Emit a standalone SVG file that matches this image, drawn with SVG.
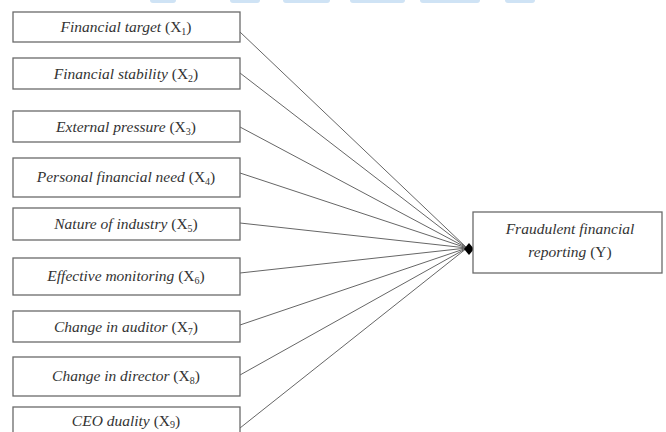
<svg xmlns="http://www.w3.org/2000/svg" width="666" height="432" viewBox="0 0 666 432">
<style>
.box{fill:#fff;stroke:#6a6a6a;stroke-width:1.3}
.t{font-family:"Liberation Serif","DejaVu Serif",serif;font-size:15.5px;fill:#333;text-anchor:middle}
.i{font-style:italic;font-family:"Liberation Serif","DejaVu Serif",serif}
.s{font-size:10px}
.c line{stroke:#666;stroke-width:1}
.wm{fill:#cfe3f5}
</style>
<rect width="666" height="432" fill="#fff"/>
<g id="watermark">
<rect class="wm" x="150" y="-4" width="26" height="7" rx="3"/>
<rect class="wm" x="230" y="-4" width="30" height="7" rx="3"/>
<rect class="wm" x="283" y="-4" width="47" height="7" rx="3"/>
<rect class="wm" x="350" y="-4" width="55" height="7" rx="3"/>
<rect class="wm" x="420" y="-4" width="60" height="7" rx="3"/>
<rect class="wm" x="505" y="-4" width="30" height="7" rx="3"/>
</g>
<g class="c" id="connectors">
<line x1="240" y1="32" x2="467" y2="248"/>
<line x1="240" y1="73" x2="467" y2="248"/>
<line x1="240" y1="127" x2="467" y2="248"/>
<line x1="240" y1="173" x2="467" y2="248"/>
<line x1="240" y1="223" x2="467" y2="248"/>
<line x1="240" y1="273" x2="467" y2="248"/>
<line x1="240" y1="325" x2="467" y2="248"/>
<line x1="240" y1="375" x2="467" y2="248"/>
<line x1="240" y1="428" x2="467" y2="248"/>
<path d="M469 243 L474 249 L469 255 L464 249 Z" fill="#000"/>
</g>
<g id="x1"><rect class="box" x="13" y="12" width="227" height="30"/><text class="t" x="126" y="32"><tspan class="i">Financial target</tspan> (X<tspan class="s" dy="3">1</tspan><tspan dy="-3">)</tspan></text></g>
<g id="x2"><rect class="box" x="13" y="58" width="227" height="31"/><text class="t" x="126" y="79"><tspan class="i">Financial stability</tspan> (X<tspan class="s" dy="3">2</tspan><tspan dy="-3">)</tspan></text></g>
<g id="x3"><rect class="box" x="13" y="111" width="227" height="31"/><text class="t" x="126" y="132"><tspan class="i">External pressure</tspan> (X<tspan class="s" dy="3">3</tspan><tspan dy="-3">)</tspan></text></g>
<g id="x4"><rect class="box" x="13" y="158" width="227" height="39"/><text class="t" x="126" y="182"><tspan class="i">Personal financial need</tspan> (X<tspan class="s" dy="3">4</tspan><tspan dy="-3">)</tspan></text></g>
<g id="x5"><rect class="box" x="13" y="208" width="227" height="32"/><text class="t" x="126" y="229"><tspan class="i">Nature of industry</tspan> (X<tspan class="s" dy="3">5</tspan><tspan dy="-3">)</tspan></text></g>
<g id="x6"><rect class="box" x="13" y="258" width="227" height="37"/><text class="t" x="126" y="281"><tspan class="i">Effective monitoring</tspan> (X<tspan class="s" dy="3">6</tspan><tspan dy="-3">)</tspan></text></g>
<g id="x7"><rect class="box" x="13" y="311" width="227" height="31"/><text class="t" x="126" y="332"><tspan class="i">Change in auditor</tspan> (X<tspan class="s" dy="3">7</tspan><tspan dy="-3">)</tspan></text></g>
<g id="x8"><rect class="box" x="13" y="357" width="227" height="39"/><text class="t" x="126" y="381"><tspan class="i">Change in director</tspan> (X<tspan class="s" dy="3">8</tspan><tspan dy="-3">)</tspan></text></g>
<g id="x9"><rect class="box" x="13" y="407" width="227" height="35"/><text class="t" x="126" y="426"><tspan class="i">CEO duality</tspan> (X<tspan class="s" dy="2">9</tspan><tspan dy="-2">)</tspan></text></g>
<g id="y"><rect class="box" x="473" y="212" width="189" height="61"/>
<text class="t" x="570" y="234"><tspan class="i">Fraudulent financial</tspan></text>
<text class="t" x="570" y="257"><tspan class="i">reporting</tspan> (Y)</text></g>
</svg>
